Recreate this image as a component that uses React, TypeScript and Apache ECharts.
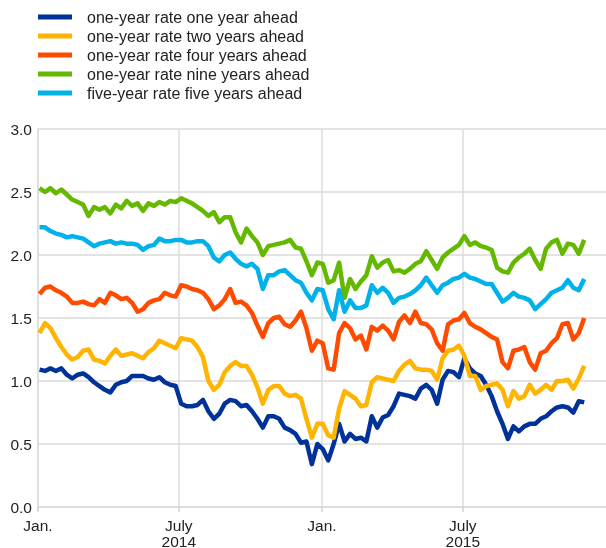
import React, { useEffect, useRef } from "react";
import * as echarts from "echarts";

// Weekly observations, first one on 3 Jan 2014
const START_DATE = "2014-01-03";
const WEEKS = 101;

const seriesNames = [
  "one-year rate one year ahead",
  "one-year rate two years ahead",
  "one-year rate four years ahead",
  "one-year rate nine years ahead",
  "five-year rate five years ahead",
];
const seriesColors = ["#003299", "#FFB400", "#FF4B00", "#65B800", "#00B1EA"];

const oneYearOneAhead = [
  1.09, 1.08, 1.10, 1.08, 1.10, 1.05, 1.02, 1.05, 1.06, 1.03,
  0.99, 0.96, 0.93, 0.91, 0.97, 0.99, 1.00, 1.04, 1.04, 1.04,
  1.02, 1.01, 1.03, 0.99, 0.97, 0.96, 0.82, 0.80, 0.80, 0.81,
  0.85, 0.76, 0.70, 0.74, 0.82, 0.85, 0.84, 0.80, 0.81, 0.76,
  0.70, 0.63, 0.72, 0.72, 0.70, 0.63, 0.61, 0.58, 0.51, 0.52,
  0.34, 0.50, 0.46, 0.37, 0.50, 0.66, 0.52, 0.58, 0.54, 0.55,
  0.52, 0.72, 0.63, 0.71, 0.73, 0.80, 0.90, 0.89, 0.88, 0.86,
  0.94, 0.97, 0.93, 0.82, 1.01, 1.08, 1.07, 1.03, 1.18, 1.10,
  1.06, 1.04, 0.97, 0.88, 0.76, 0.66, 0.54, 0.64, 0.60, 0.64,
  0.66, 0.66, 0.70, 0.72, 0.76, 0.79, 0.80, 0.79, 0.75, 0.84,
  0.83,
];
const oneYearTwoAhead = [
  1.38, 1.46, 1.42, 1.34, 1.27, 1.21, 1.17, 1.19, 1.24, 1.25,
  1.17, 1.16, 1.14, 1.20, 1.25, 1.20, 1.21, 1.22, 1.20, 1.18,
  1.23, 1.26, 1.32, 1.30, 1.28, 1.26, 1.34, 1.33, 1.32, 1.27,
  1.19, 1.00, 0.93, 0.97, 1.07, 1.12, 1.15, 1.12, 1.12, 1.05,
  0.95, 0.82, 0.93, 0.96, 0.96, 0.90, 0.88, 0.89, 0.86, 0.70,
  0.55, 0.66, 0.66, 0.57, 0.55, 0.78, 0.92, 0.89, 0.86, 0.80,
  0.81, 0.99, 1.03, 1.02, 1.01, 1.00, 1.08, 1.13, 1.16, 1.10,
  1.09, 1.09, 1.08, 1.01, 1.18, 1.24, 1.25, 1.28, 1.20, 1.04,
  1.04, 0.93, 0.96, 0.97, 0.98, 0.93, 0.80, 0.92, 0.86, 0.88,
  0.97, 0.90, 0.93, 0.97, 0.93, 1.00, 1.00, 1.01, 0.94, 1.02,
  1.12,
];
const oneYearFourAhead = [
  1.69, 1.74, 1.75, 1.72, 1.70, 1.67, 1.62, 1.62, 1.63, 1.61,
  1.60, 1.65, 1.62, 1.70, 1.68, 1.65, 1.66, 1.62, 1.55, 1.57,
  1.62, 1.64, 1.65, 1.70, 1.68, 1.67, 1.76, 1.75, 1.73, 1.72,
  1.70, 1.65, 1.57, 1.60, 1.65, 1.73, 1.62, 1.63, 1.60, 1.54,
  1.44, 1.35, 1.46, 1.50, 1.51, 1.45, 1.43, 1.48, 1.55, 1.42,
  1.24, 1.32, 1.30, 1.10, 1.09, 1.38, 1.46, 1.42, 1.33, 1.36,
  1.25, 1.43, 1.40, 1.44, 1.40, 1.33, 1.47, 1.52, 1.46, 1.55,
  1.46, 1.45, 1.41, 1.30, 1.24, 1.45, 1.48, 1.49, 1.54, 1.46,
  1.43, 1.41, 1.38, 1.35, 1.33, 1.15, 1.10, 1.24, 1.25, 1.27,
  1.15, 1.09, 1.22, 1.24, 1.30, 1.34, 1.45, 1.46, 1.33, 1.38,
  1.50,
];
const oneYearNineAhead = [
  2.53, 2.50, 2.53, 2.49, 2.52, 2.48, 2.44, 2.42, 2.40, 2.31,
  2.38, 2.36, 2.38, 2.33, 2.40, 2.37, 2.43, 2.39, 2.41, 2.35,
  2.41, 2.39, 2.42, 2.40, 2.43, 2.42, 2.45, 2.43, 2.41, 2.38,
  2.35, 2.31, 2.34, 2.26, 2.30, 2.30, 2.18, 2.10, 2.21, 2.15,
  2.10, 2.00, 2.07, 2.08, 2.09, 2.10, 2.12, 2.06, 2.05, 1.95,
  1.84, 1.94, 1.93, 1.78, 1.80, 1.94, 1.66, 1.81, 1.73, 1.79,
  1.84, 1.99, 1.90, 1.94, 1.96, 1.87, 1.88, 1.86, 1.89, 1.93,
  1.95, 2.03, 1.96, 1.89, 1.98, 2.02, 2.05, 2.08, 2.15, 2.08,
  2.10, 2.07, 2.06, 2.04, 1.90, 1.87, 1.86, 1.94, 1.98, 2.01,
  2.05, 1.96, 1.89, 2.05, 2.10, 2.12, 2.01, 2.09, 2.08, 2.01,
  2.12,
];
const fiveYearFiveAhead = [
  2.22, 2.22, 2.19, 2.17, 2.16, 2.14, 2.15, 2.14, 2.13, 2.10,
  2.07, 2.09, 2.10, 2.11, 2.09, 2.10, 2.09, 2.09, 2.08, 2.04,
  2.07, 2.08, 2.13, 2.11, 2.11, 2.12, 2.12, 2.10, 2.10, 2.11,
  2.11, 2.07, 1.98, 1.95, 2.00, 2.02, 1.97, 1.93, 1.91, 1.93,
  1.89, 1.73, 1.84, 1.84, 1.87, 1.88, 1.84, 1.80, 1.78, 1.70,
  1.64, 1.73, 1.72, 1.57, 1.49, 1.72, 1.55, 1.64, 1.58, 1.58,
  1.60, 1.76, 1.70, 1.74, 1.70, 1.62, 1.66, 1.67, 1.69, 1.72,
  1.76, 1.82, 1.76, 1.70, 1.76, 1.78, 1.81, 1.82, 1.85, 1.82,
  1.81, 1.79, 1.77, 1.77, 1.70, 1.63, 1.66, 1.70, 1.67, 1.66,
  1.64, 1.57, 1.61, 1.65, 1.70, 1.72, 1.74, 1.80, 1.74, 1.72,
  1.81,
];

const tickDates = ["2014-01-01", "2014-07-01", "2015-01-01", "2015-07-01"];
const axisMinDate = "2014-01-01";
const axisMaxDate = "2016-01-01";
const yTicks = { min: 0, max: 3, interval: 0.5 };

const DAY = 86400000;
const ts = (s: string) => Date.parse(s + "T00:00:00Z");

export default function App() {
  const ref = useRef<HTMLDivElement>(null);
  useEffect(() => {
    if (!ref.current) return;
    const chart = echarts.init(ref.current, null, { renderer: "svg" });
    const start = ts(START_DATE);
    const dates = Array.from({ length: WEEKS }, (_, i) => start + i * 7 * DAY);
    const allValues = [oneYearOneAhead, oneYearTwoAhead, oneYearFourAhead, oneYearNineAhead, fiveYearFiveAhead];
    const font = "'Liberation Sans', Arial, sans-serif";
    const tickTs = tickDates.map(ts);
    chart.setOption({
      animation: false,
      textStyle: { fontFamily: font },
      legend: {
        orient: "vertical",
        left: 38,
        top: 9,
        padding: 0,
        itemWidth: 34,
        itemHeight: 5,
        itemGap: 3,
        icon: "rect",
        textStyle: { fontSize: 16, color: "#222", fontFamily: font, lineHeight: 16, padding: [0, 0, 0, 10] },
        data: seriesNames,
      },
      grid: { left: 38, right: 0, top: 129, bottom: 41, containLabel: false, outerBoundsMode: "none" },
      xAxis: {
        type: "value",
        min: ts(axisMinDate),
        max: ts(axisMaxDate),
        axisLine: { show: true, lineStyle: { color: "#dcdcdc", width: 2 } },
        axisTick: { show: true, customValues: tickTs, length: 5, lineStyle: { color: "#d0d0d0", width: 1.5 } },
        splitLine: { show: true, lineStyle: { color: "#dcdcdc", width: 1.5 } },
        axisLabel: {
          customValues: tickTs,
          fontSize: 15.5,
          color: "#222",
          fontFamily: font,
          lineHeight: 16,
          margin: 10,
          formatter: (v: number) => {
            const d = new Date(v);
            return d.getUTCMonth() === 0 ? "Jan." : "July\n" + d.getUTCFullYear();
          },
        },
      },
      yAxis: {
        type: "value",
        min: yTicks.min,
        max: yTicks.max,
        interval: yTicks.interval,
        axisLine: { show: true, lineStyle: { color: "#dcdcdc", width: 1.5 } },
        axisTick: { show: false },
        splitLine: { show: true, lineStyle: { color: "#e3e3e3", width: 2 } },
        axisLabel: {
          fontSize: 15.5,
          color: "#222",
          fontFamily: font,
          margin: 6,
          formatter: (v: number) => v.toFixed(1),
        },
      },
      series: seriesNames.map((name, i) => ({
        name,
        type: "line",
        showSymbol: false,
        symbol: "none",
        color: seriesColors[i],
        lineStyle: { width: 4.5, color: seriesColors[i], join: "round" },
        data: dates.map((d, j) => [d, allValues[i][j]]),
      })),
    });
    return () => chart.dispose();
  }, []);
  return (
    <div
      ref={ref}
      style={{ position: "fixed", left: 0, top: 0, width: 606, height: 548 }}
    />
  );
}
